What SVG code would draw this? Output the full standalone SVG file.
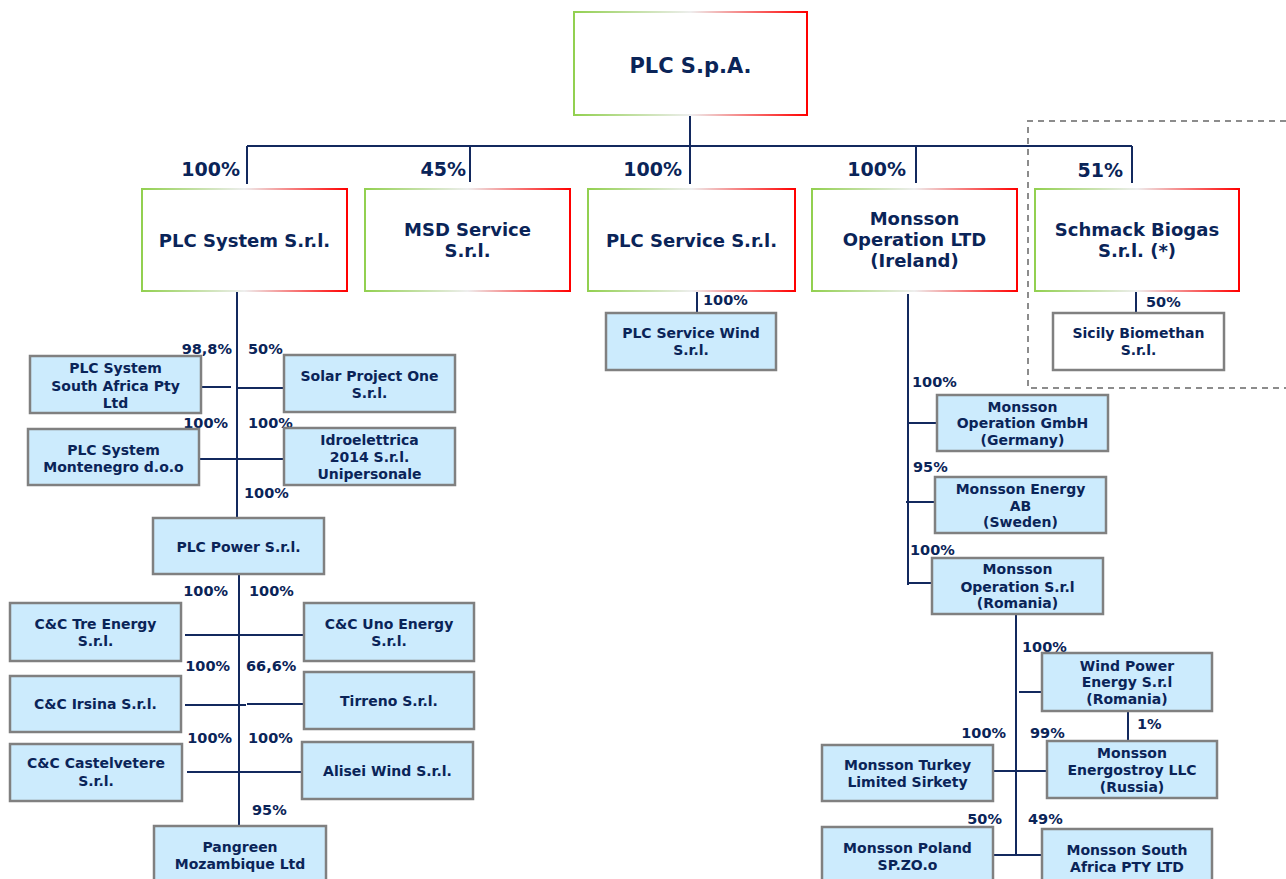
<svg xmlns="http://www.w3.org/2000/svg" width="1286" height="879" viewBox="0 0 1286 879">
<defs>
<linearGradient id="gb" x1="0" y1="0" x2="1" y2="0">
<stop offset="0" stop-color="#92D050"/>
<stop offset="0.5" stop-color="#EEEEEE"/>
<stop offset="1" stop-color="#FF0000"/>
</linearGradient>
</defs>
<style>
text{font-family:"DejaVu Sans",Verdana,"Liberation Sans",sans-serif;font-weight:bold;fill:#0A2458}
.gb{fill:#FFFFFF;stroke:url(#gb);stroke-width:2}
.bx{fill:#CCEBFD;stroke:#808080;stroke-width:2.5}
.wb{fill:#FFFFFF;stroke:#808080;stroke-width:2.5}
.t1{font-size:21px;text-anchor:middle}
.t2{font-size:18px;text-anchor:middle}
.t3{font-size:14px;text-anchor:middle}
.p2{font-size:19px;text-anchor:end}
.pl{font-size:14.5px;text-anchor:end}
.pr{font-size:14.5px;text-anchor:start}
.ln{fill:none;stroke:#13295E;stroke-width:2}
.dash{fill:none;stroke:#8C8C8C;stroke-width:2;stroke-dasharray:6,5}
</style>
<rect width="1286" height="879" fill="#FFFFFF"/>

<path class="dash" d="M1286 121 H1028 V388 H1286"/>

<g id="connectors">
<path class="ln" d="M690 115 V146 M247 146 H1132 M247 146 V184 M470 146 V182 M690 146 V184 M916 146 V183 M1132 146 V183"/>
<path class="ln" d="M697 291 V313 M1136 291 V313"/>
<path class="ln" d="M237 291 V518 M201 387 H231 M237 388 H284 M199 459 H284"/>
<path class="ln" d="M239 574 V826 M185 635 H304 M185 705 H246 M247 704 H304 M187 772 H302"/>
<path class="ln" d="M908 294 V585 M908 423 H937 M906 502 H935 M908 583 H932"/>
<path class="ln" d="M1016 614 V856 M1019 692 H1042 M1128 711 V741 M993 771 H1047 M993 855 H1042"/>
<text class="p2" x="240" y="176">100%</text>
<text class="p2" x="466" y="176">45%</text>
<text class="p2" x="682" y="176">100%</text>
<text class="p2" x="906" y="176">100%</text>
<text class="p2" x="1123" y="177">51%</text>
<text class="pr" x="703" y="305">100%</text>
<text class="pr" x="1146" y="307">50%</text>
<text class="pl" x="232" y="354">98,8%</text>
<text class="pr" x="248" y="354">50%</text>
<text class="pl" x="228" y="428">100%</text>
<text class="pr" x="248" y="428">100%</text>
<text class="pr" x="244" y="498">100%</text>
<text class="pl" x="228" y="596">100%</text>
<text class="pr" x="249" y="596">100%</text>
<text class="pl" x="230" y="671">100%</text>
<text class="pr" x="246" y="671">66,6%</text>
<text class="pl" x="232" y="743">100%</text>
<text class="pr" x="248" y="743">100%</text>
<text class="pr" x="252" y="815">95%</text>
<text class="pr" x="912" y="387">100%</text>
<text class="pr" x="913" y="472">95%</text>
<text class="pr" x="910" y="555">100%</text>
<text class="pr" x="1022" y="652">100%</text>
<text class="pr" x="1137" y="729">1%</text>
<text class="pl" x="1006" y="738">100%</text>
<text class="pr" x="1030" y="738">99%</text>
<text class="pl" x="1002" y="824">50%</text>
<text class="pr" x="1028" y="824">49%</text>
</g>

<g id="plc-spa"><rect class="gb" x="574" y="12" width="233" height="103"/><text class="t1" x="690.5" y="73">PLC S.p.A.</text></g>

<g id="plc-system"><rect class="gb" x="142" y="189" width="205" height="102"/><text class="t2" x="244.5" y="247">PLC System S.r.l.</text></g>
<g id="msd-service"><rect class="gb" x="365" y="189" width="205" height="102"/><text class="t2" x="467.5" y="236">MSD Service</text><text class="t2" x="467.5" y="257">S.r.l.</text></g>
<g id="plc-service"><rect class="gb" x="588" y="189" width="207" height="102"/><text class="t2" x="691.5" y="247">PLC Service S.r.l.</text></g>
<g id="monsson-ltd"><rect class="gb" x="812" y="189" width="205" height="102"/><text class="t2" x="914.5" y="225">Monsson</text><text class="t2" x="914.5" y="246">Operation LTD</text><text class="t2" x="914.5" y="267">(Ireland)</text></g>
<g id="schmack"><rect class="gb" x="1035" y="189" width="204" height="102"/><text class="t2" x="1137" y="236">Schmack Biogas</text><text class="t2" x="1137" y="257">S.r.l. (*)</text></g>

<g id="plc-service-wind"><rect class="bx" x="606" y="313" width="170" height="57"/><text class="t3" x="691" y="338">PLC Service Wind</text><text class="t3" x="691" y="355">S.r.l.</text></g>
<g id="sicily"><rect class="wb" x="1053" y="313" width="171" height="57"/><text class="t3" x="1138.5" y="338">Sicily Biomethan</text><text class="t3" x="1138.5" y="355">S.r.l.</text></g>

<g id="plc-sa"><rect class="bx" x="30" y="356" width="171" height="57"/><text class="t3" x="115.5" y="373">PLC System</text><text class="t3" x="115.5" y="391">South Africa Pty</text><text class="t3" x="115.5" y="408">Ltd</text></g>
<g id="solar"><rect class="bx" x="284" y="355" width="171" height="57"/><text class="t3" x="369.5" y="381">Solar Project One</text><text class="t3" x="369.5" y="398">S.r.l.</text></g>
<g id="montenegro"><rect class="bx" x="28" y="429" width="171" height="56"/><text class="t3" x="113.5" y="455">PLC System</text><text class="t3" x="113.5" y="472">Montenegro d.o.o</text></g>
<g id="idro"><rect class="bx" x="284" y="428" width="171" height="57"/><text class="t3" x="369.5" y="445">Idroelettrica</text><text class="t3" x="369.5" y="462">2014 S.r.l.</text><text class="t3" x="369.5" y="479">Unipersonale</text></g>
<g id="plc-power"><rect class="bx" x="153" y="518" width="171" height="56"/><text class="t3" x="238.5" y="552">PLC Power S.r.l.</text></g>
<g id="cc-tre"><rect class="bx" x="10" y="603" width="171" height="58"/><text class="t3" x="95.5" y="629">C&amp;C Tre Energy</text><text class="t3" x="95.5" y="646">S.r.l.</text></g>
<g id="cc-uno"><rect class="bx" x="304" y="603" width="170" height="58"/><text class="t3" x="389" y="629">C&amp;C Uno Energy</text><text class="t3" x="389" y="646">S.r.l.</text></g>
<g id="cc-irsina"><rect class="bx" x="10" y="676" width="171" height="56"/><text class="t3" x="95.5" y="709">C&amp;C Irsina S.r.l.</text></g>
<g id="tirreno"><rect class="bx" x="304" y="672" width="170" height="57"/><text class="t3" x="389" y="706">Tirreno S.r.l.</text></g>
<g id="cc-castelvetere"><rect class="bx" x="10" y="744" width="172" height="57"/><text class="t3" x="96" y="768">C&amp;C Castelvetere</text><text class="t3" x="96" y="786">S.r.l.</text></g>
<g id="alisei"><rect class="bx" x="302" y="742" width="171" height="57"/><text class="t3" x="387.5" y="776">Alisei Wind S.r.l.</text></g>
<g id="pangreen"><rect class="bx" x="154" y="826" width="172" height="58"/><text class="t3" x="240" y="852">Pangreen</text><text class="t3" x="240" y="869">Mozambique Ltd</text></g>

<g id="monsson-gmbh"><rect class="bx" x="937" y="395" width="171" height="56"/><text class="t3" x="1022.5" y="412">Monsson</text><text class="t3" x="1022.5" y="428">Operation GmbH</text><text class="t3" x="1022.5" y="445">(Germany)</text></g>
<g id="monsson-ab"><rect class="bx" x="935" y="477" width="171" height="56"/><text class="t3" x="1020.5" y="494">Monsson Energy</text><text class="t3" x="1020.5" y="511">AB</text><text class="t3" x="1020.5" y="527">(Sweden)</text></g>
<g id="monsson-ro"><rect class="bx" x="932" y="558" width="171" height="56"/><text class="t3" x="1017.5" y="574">Monsson</text><text class="t3" x="1017.5" y="592">Operation S.r.l</text><text class="t3" x="1017.5" y="608">(Romania)</text></g>
<g id="wind-power"><rect class="bx" x="1042" y="653" width="170" height="58"/><text class="t3" x="1127" y="671">Wind Power</text><text class="t3" x="1127" y="687">Energy S.r.l</text><text class="t3" x="1127" y="704">(Romania)</text></g>
<g id="turkey"><rect class="bx" x="822" y="745" width="171" height="56"/><text class="t3" x="907.5" y="770">Monsson Turkey</text><text class="t3" x="907.5" y="787">Limited Sirkety</text></g>
<g id="energostroy"><rect class="bx" x="1047" y="741" width="170" height="57"/><text class="t3" x="1132" y="758">Monsson</text><text class="t3" x="1132" y="775">Energostroy LLC</text><text class="t3" x="1132" y="792">(Russia)</text></g>
<g id="poland"><rect class="bx" x="822" y="827" width="171" height="58"/><text class="t3" x="907.5" y="853">Monsson Poland</text><text class="t3" x="907.5" y="870">SP.ZO.o</text></g>
<g id="monsson-sa"><rect class="bx" x="1042" y="829" width="170" height="58"/><text class="t3" x="1127" y="855">Monsson South</text><text class="t3" x="1127" y="872">Africa PTY LTD</text></g>
</svg>
